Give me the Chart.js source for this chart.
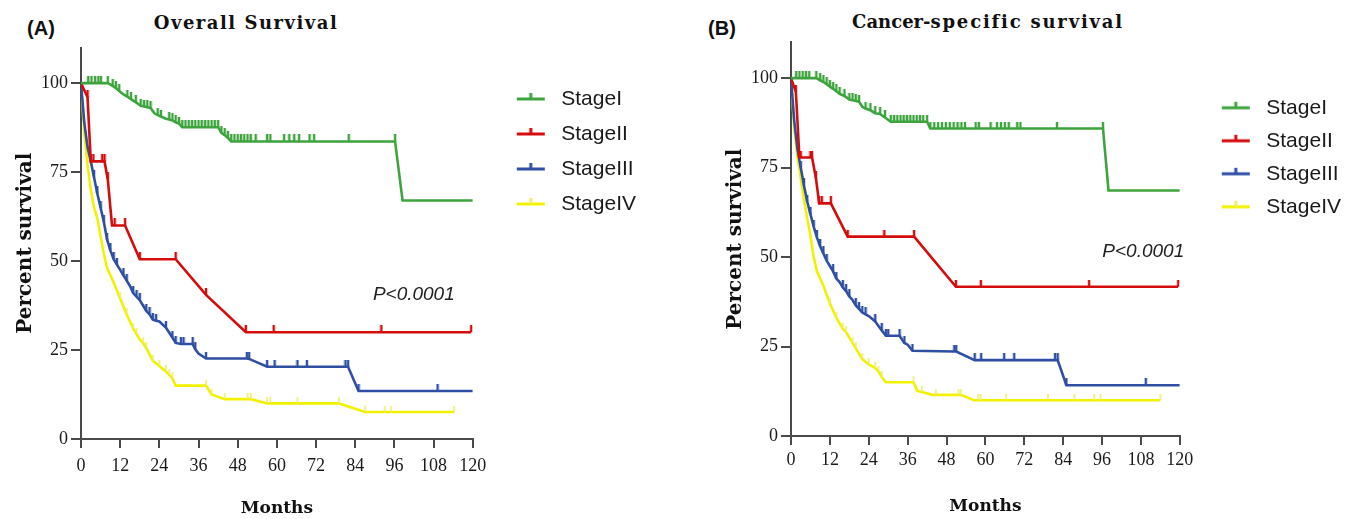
<!DOCTYPE html>
<html>
<head>
<meta charset="utf-8">
<title>Survival by stage</title>
<script src="https://cdn.jsdelivr.net/npm/chart.js@4.4.1/dist/chart.umd.min.js"></script>
<style>
  html, body { margin: 0; padding: 0; background: #fff; overflow: hidden; }
  body { width: 1349px; height: 519px; position: relative; }
  canvas { position: absolute; top: 0; }
  #os-chart { left: 0; }
  #css-chart { left: 700px; }
  .label { position: absolute; transform: translate(-50%, -50%); white-space: nowrap; color: #111; }
  .tag { font: bold 20px "Liberation Sans", Arial, sans-serif; }
  .title { font: bold 18px "DejaVu Serif", serif; letter-spacing: 1.5px; }
  .title .spaced { letter-spacing: 1.8px; }
  .title .tight { letter-spacing: 0; }
</style>
</head>
<body>
<div class="label tag" style="left:41px; top:28px;">(A)</div>
<div class="label title" style="left:246px; top:22px;">Overall Survival</div>
<div class="label tag" style="left:722px; top:28px;">(B)</div>
<div class="label title" style="left:988px; top:21px;"><span class="tight">Cancer-</span><span class="spaced">specific survival</span></div>

<canvas id="os-chart" width="646" height="519"></canvas>
<canvas id="css-chart" width="651" height="519"></canvas>

<script>
// Chart data

const stageNames = ['StageI', 'StageII', 'StageIII', 'StageIV'];
const monthTicks = [0, 12, 24, 36, 48, 60, 72, 84, 96, 108, 120];
const percentTicks = [0, 25, 50, 75, 100];

// each point: [month, percent survival, censored (1) / event (0)]

// (A) Overall survival
const osStageI = [
    [0, 100, 0], [2.2, 100, 1], [3.2, 100, 1], [4.3, 100, 1], [5.3, 100, 1], [6.1, 100, 1],
    [8.2, 100, 1], [9.7, 99.2, 1], [10.7, 98.6, 1], [11.7, 97.8, 1], [13, 96.8, 0], [14.2, 96.2, 1],
    [15.3, 95.5, 1], [16.8, 94.6, 1], [18.3, 93.6, 1], [19.3, 93.4, 1], [20.3, 93.2, 1], [21.3, 93, 1],
    [22.5, 91.5, 0], [23.5, 91, 1], [24.5, 90.6, 1], [26, 90, 0], [27, 89.8, 1], [28, 89.5, 1],
    [29, 89, 1], [30, 88.6, 1], [31, 87.6, 1], [32, 87.6, 1], [33, 87.6, 1], [34, 87.6, 1],
    [35, 87.6, 1], [36, 87.6, 1], [37, 87.6, 1], [38, 87.6, 1], [39, 87.6, 1], [40, 87.6, 1],
    [41, 87.6, 1], [42, 87.6, 1], [43, 86, 1], [44, 85.4, 1], [45, 84.6, 1], [46, 83.6, 1],
    [47, 83.6, 1], [48, 83.6, 1], [49, 83.6, 1], [50, 83.6, 1], [51, 83.6, 1], [52, 83.6, 1],
    [53.5, 83.6, 1], [57, 83.6, 1], [58, 83.6, 1], [62.2, 83.6, 1], [63.8, 83.6, 1], [65.3, 83.6, 1],
    [66.8, 83.6, 1], [70, 83.6, 1], [71.4, 83.6, 1], [82, 83.6, 1], [96.2, 83.6, 1], [98.5, 67, 0],
    [120, 67, 0]
];
const osStageII = [
    [0, 100, 0], [2, 96, 1], [3, 78, 0], [3.8, 78, 1], [6.5, 78, 1], [7.2, 78, 1], [8.2, 73, 1],
    [9.5, 60, 0], [10.3, 60, 1], [13.5, 60, 1], [18, 50.5, 1], [29, 50.5, 1], [38.3, 40.5, 1],
    [50.5, 30, 1], [59, 30, 1], [92, 30, 1], [119.5, 30, 1]
];
const osStageIII = [
    [0, 100, 0], [1, 89, 0], [2, 82, 0], [3, 78, 1], [4, 73.5, 1], [5, 69, 1], [6, 65, 1], [7, 61, 1],
    [8, 56, 1], [9, 53, 1], [10, 50.5, 1], [11, 49, 1], [12, 47.5, 0], [13, 46, 1], [14, 44.5, 1],
    [15, 43, 0], [16, 41, 1], [17, 40, 1], [18, 39, 1], [19, 37.5, 0], [20, 36, 1], [21, 35, 1],
    [22, 33.5, 1], [23, 33.2, 1], [24, 33, 0], [26, 31.3, 1], [28, 28.5, 1], [29, 27, 1],
    [30.6, 26.7, 1], [31.4, 26.7, 1], [34.2, 26.7, 1], [35, 25.2, 1], [36, 24, 0], [38.3, 22.6, 1],
    [50.8, 22.6, 1], [51.5, 22.5, 1], [57, 20.3, 1], [59.3, 20.3, 1], [66.3, 20.3, 1], [69.2, 20.3, 1],
    [81, 20.3, 1], [81.8, 20.3, 1], [85, 13.5, 1], [109.2, 13.5, 1], [120, 13.5, 0]
];
const osStageIV = [
    [0, 100, 0], [0.5, 93, 0], [1, 86, 0], [2, 77, 0], [3, 70, 0], [4, 65, 0], [5, 62, 0], [6, 57, 0],
    [7, 52, 0], [8, 48, 0], [10, 44, 0], [12, 39.5, 1], [14, 35, 1], [16, 31, 1], [17, 29.5, 1],
    [18, 28, 0], [19, 27, 1], [20, 25.5, 1], [22, 22, 1], [24, 20.5, 1], [26, 19, 1], [27, 18, 1],
    [28, 17, 1], [29, 15, 0], [38.3, 15, 1], [40, 12.5, 1], [44, 11.2, 1], [51, 11.2, 1], [52, 11.2, 1],
    [57, 10, 1], [58, 10, 1], [66.3, 10, 1], [79, 10, 1], [87, 7.6, 1], [93, 7.6, 1], [95, 7.6, 1],
    [114.3, 7.6, 1]
];

// (B) Cancer-specific survival
const cssStageI = [
    [0, 100, 0], [1.6, 100, 1], [2.6, 100, 1], [3.6, 100, 1], [4.6, 100, 1], [5.6, 100, 1],
    [7.8, 100, 1], [9, 99.4, 1], [10, 98.9, 1], [11, 98.3, 1], [12, 97.6, 1], [13, 97, 1],
    [14, 96.3, 1], [15, 95.6, 1], [16.5, 95, 1], [18, 94, 1], [19, 93.8, 1], [20, 93.6, 1],
    [21, 93.4, 1], [22, 92, 0], [23, 91.5, 1], [24.5, 91, 1], [26, 90.2, 1], [27.5, 90, 1],
    [29, 89, 1], [30.8, 87.8, 1], [31.8, 87.8, 1], [32.8, 87.8, 1], [33.8, 87.8, 1], [34.8, 87.8, 1],
    [35.8, 87.8, 1], [36.8, 87.8, 1], [37.8, 87.8, 1], [38.8, 87.8, 1], [39.8, 87.8, 1], [40.8, 87.8, 1],
    [42, 87.8, 1], [43, 85.9, 1], [44.2, 85.9, 1], [45.4, 85.9, 1], [46.6, 85.9, 1], [47.8, 85.9, 1],
    [49, 85.9, 1], [50.2, 85.9, 1], [51.4, 85.9, 1], [52.6, 85.9, 1], [53.7, 85.9, 1], [57, 85.9, 1],
    [58, 85.9, 1], [61.6, 85.9, 1], [63.6, 85.9, 1], [64.8, 85.9, 1], [66, 85.9, 1], [67.2, 85.9, 1],
    [69.8, 85.9, 1], [70.8, 85.9, 1], [82.1, 85.9, 1], [96.3, 85.9, 1], [98, 68.6, 0], [120, 68.6, 0]
];
const cssStageII = [
    [0, 100, 0], [1.5, 96.2, 1], [2.6, 77.8, 0], [3, 77.8, 1], [6, 77.8, 1], [6.5, 77.8, 1],
    [7.7, 72, 1], [8.7, 65, 1], [9.5, 65, 1], [12.3, 65, 1], [17.5, 55.7, 1], [28.8, 55.7, 1],
    [38, 55.7, 1], [50.9, 41.7, 1], [58.6, 41.7, 1], [92, 41.7, 1], [119.5, 41.7, 1]
];
const cssStageIII = [
    [0, 100, 0], [1, 88, 0], [2, 80, 0], [3, 75, 1], [4, 70, 1], [5, 65.5, 1], [6, 62, 1], [7, 58.5, 1],
    [8, 55.5, 1], [9, 53, 1], [10, 51, 1], [11, 49, 1], [12, 47.5, 0], [13, 46, 1], [14, 44, 1],
    [15, 43, 0], [16, 41.5, 1], [17, 40.5, 1], [18, 39, 1], [19, 38, 0], [20, 36.5, 1], [21, 35.5, 1],
    [22, 34.5, 1], [23, 34, 1], [24, 33.5, 0], [26, 32, 1], [28, 29.5, 1], [29.3, 28, 1], [30, 28, 1],
    [33.5, 28, 1], [35, 26, 1], [36, 25.5, 0], [37.5, 23.8, 1], [50.4, 23.6, 1], [51, 23.6, 1],
    [56.7, 21.2, 1], [58.7, 21.2, 1], [65.8, 21.2, 1], [68.9, 21.2, 1], [81.5, 21.2, 1], [82.3, 21.2, 1],
    [85, 14.2, 1], [109.5, 14.2, 1], [120, 14.2, 0]
];
const cssStageIV = [
    [0, 100, 0], [0.5, 93, 0], [1, 86, 0], [2, 78, 0], [3, 72, 0], [4, 66, 0], [5, 61, 0], [6, 56, 0],
    [7, 50, 0], [8, 46, 0], [10, 42, 0], [12, 37, 1], [14, 33, 1], [16, 30, 1], [17, 29, 1], [18, 27.5, 0],
    [19, 26, 1], [20, 24.5, 1], [22, 21.5, 1], [24, 20, 1], [26, 19, 1], [27, 18, 1], [28, 16.5, 1],
    [29.3, 15, 0], [37.8, 15, 1], [39, 12.6, 0], [40.4, 12.3, 1], [43.7, 11.5, 0], [44.7, 11.5, 1],
    [51.7, 11.5, 1], [52.4, 11.5, 1], [56.5, 10, 0], [57.8, 10, 1], [58.5, 10, 1], [66.4, 10, 1],
    [79.3, 10, 1], [87.5, 10, 1], [93.6, 10, 1], [95.5, 10, 1], [114, 10, 1]
];

// Styling

const lineColors = ['#3ea43e', '#d40c0c', '#2f4fa4', '#f2f200'];
const tickColors = ['#3ea43e', '#d40c0c', '#2f4fa4', '#eeee6a'];
const axisColor = '#4a4a4a';
const textColor = '#1a1a1a';
const serifFont = '"Liberation Serif", "Times New Roman", serif';
const titleFont = '"DejaVu Serif", serif';
const sansFont = '"Liberation Sans", Arial, sans-serif';

// Censor mark: short vertical tick drawn upward from the point
function makeCensorMark(color, len, width) {
    const c = document.createElement('canvas');
    c.width = 4;
    c.height = len * 2;
    const g = c.getContext('2d');
    g.strokeStyle = color;
    g.lineWidth = width;
    g.beginPath();
    g.moveTo(2, 0);
    g.lineTo(2, len);
    g.stroke();
    return c;
}

// Legend mark: line with a small tick in the middle (offset right inside the box)
function makeLegendMark(color, tickColor) {
    const c = document.createElement('canvas');
    c.width = 64;
    c.height = 18;
    const g = c.getContext('2d');
    g.lineWidth = 3;
    g.strokeStyle = color;
    g.beginPath();
    g.moveTo(30, 9);
    g.lineTo(58, 9);
    g.stroke();
    g.strokeStyle = tickColor;
    g.beginPath();
    g.moveTo(44, 9);
    g.lineTo(44, 3);
    g.stroke();
    return c;
}

const censorMarks = tickColors.map((col, i) => makeCensorMark(col, i === 3 ? 6 : 7, i === 3 ? 1.6 : 2.4));
const legendMarks = lineColors.map((col, i) => makeLegendMark(col, tickColors[i]));

// P value text placed in data coordinates
const pValueLabel = {
    id: 'pValueLabel',
    afterDatasetsDraw(chart, args, opts) {
        const {ctx, scales: {x, y}} = chart;
        ctx.save();
        ctx.font = 'italic 19px ' + sansFont;
        ctx.fillStyle = '#222';
        ctx.textBaseline = 'middle';
        ctx.fillText(opts.text, x.getPixelForValue(opts.month), y.getPixelForValue(opts.survival));
        ctx.restore();
    }
};

function makeSurvivalChart(canvasId, series, cfg) {
    const ctx = document.getElementById(canvasId);
    return new Chart(ctx, {
        type: 'line',
        data: {
            datasets: series.map((points, i) => ({
                label: stageNames[i],
                data: points.map(p => ({x: p[0], y: p[1]})),
                borderColor: lineColors[i],
                backgroundColor: lineColors[i],
                borderWidth: 2.6,
                tension: 0,
                fill: false,
                pointStyle: censorMarks[i],
                pointRadius: c => (points[c.dataIndex] && points[c.dataIndex][2] ? 3 : 0),
                pointHoverRadius: 0,
                pointBorderWidth: 0
            }))
        },
        options: {
            responsive: false,
            animation: false,
            events: [],
            layout: {
                padding: cfg.padding
            },
            plugins: {
                tooltip: { enabled: false },
                legend: {
                    position: 'right',
                    align: 'start',
                    maxWidth: 190,
                    title: {
                        display: true,
                        text: '',
                        font: { size: 10, lineHeight: 1 },
                        padding: { top: cfg.legendOffset, bottom: 0 }
                    },
                    labels: {
                        usePointStyle: true,
                        pointStyleWidth: 64,
                        padding: cfg.legendGap,
                        color: textColor,
                        font: { family: sansFont, size: 21 },
                        generateLabels: chart => chart.data.datasets.map((ds, i) => ({
                            text: ds.label,
                            fontColor: textColor,
                            pointStyle: legendMarks[i],
                            fillStyle: ds.borderColor,
                            strokeStyle: ds.borderColor,
                            lineWidth: 0,
                            hidden: false,
                            datasetIndex: i
                        }))
                    }
                },
                pValueLabel: cfg.pValue
            },
            scales: {
                x: {
                    type: 'linear',
                    min: 0,
                    max: 120,
                    afterBuildTicks: axis => { axis.ticks = monthTicks.map(v => ({value: v})); },
                    grid: {
                        display: true,
                        drawOnChartArea: false,
                        drawTicks: true,
                        tickLength: 9,
                        color: axisColor,
                        lineWidth: 2
                    },
                    border: { display: true, color: axisColor, width: 2 },
                    ticks: {
                        color: textColor,
                        font: { family: serifFont, size: 18 },
                        padding: cfg.xTickPadding,
                        maxRotation: 0,
                        autoSkip: false
                    },
                    title: {
                        display: true,
                        text: 'Months',
                        color: '#111',
                        font: { family: titleFont, size: 17, weight: 'bold' },
                        padding: { top: cfg.xTitleGap, bottom: 0 }
                    }
                },
                y: {
                    type: 'linear',
                    min: 0,
                    max: 110,
                    afterBuildTicks: axis => { axis.ticks = percentTicks.map(v => ({value: v})); },
                    grid: {
                        display: true,
                        drawOnChartArea: false,
                        drawTicks: true,
                        tickLength: 10,
                        color: axisColor,
                        lineWidth: 2
                    },
                    border: { display: true, color: axisColor, width: 2 },
                    ticks: {
                        color: textColor,
                        font: { family: serifFont, size: 18 },
                        padding: 3
                    },
                    title: {
                        display: true,
                        text: 'Percent survival',
                        color: '#111',
                        font: { family: titleFont, size: 20, weight: 'bold' },
                        padding: { top: 5, bottom: 0 }
                    }
                }
            }
        },
        plugins: [pValueLabel]
    });
}

// Initialize both panels
makeSurvivalChart('os-chart', [osStageI, osStageII, osStageIII, osStageIV], {
    padding: { left: 9, top: 47.5, right: 0, bottom: 0 },
    legendOffset: 17,
    legendGap: 14,
    xTickPadding: 7,
    xTitleGap: 15,
    pValue: { text: 'P<0.0001', month: 89.4, survival: 40.6 }
});

makeSurvivalChart('css-chart', [cssStageI, cssStageII, cssStageIII, cssStageIV], {
    padding: { left: 19, top: 42.3, right: 0, bottom: 2 },
    legendOffset: 33,
    legendGap: 12,
    xTickPadding: 4,
    xTitleGap: 22,
    pValue: { text: 'P<0.0001', month: 96.1, survival: 51.4 }
});
</script>
</body>
</html>
